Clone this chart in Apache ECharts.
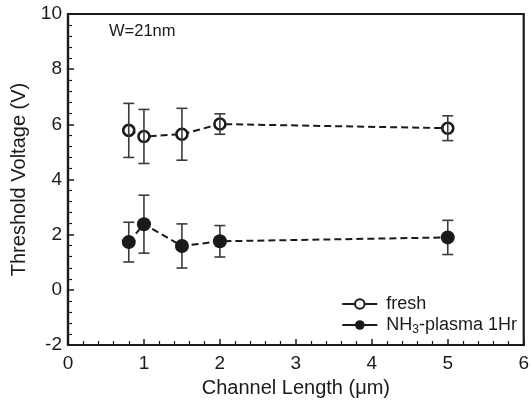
<!DOCTYPE html>
<html>
<head>
<meta charset="utf-8">
<script src="https://cdn.jsdelivr.net/npm/echarts@6/dist/echarts.min.js"></script>
<style>
  html, body { margin: 0; padding: 0; background: #fff; }
  #chart { width: 532px; height: 404px; }
</style>
</head>
<body>
<div id="chart"></div>
<script>
// channel length (um)
var lengths = [0.8, 1, 1.5, 2, 5];
// threshold voltage (V) and error half-widths
var freshVt = [5.78, 5.56, 5.64, 6.01, 5.86];
var freshErr = [0.98, 0.98, 0.94, 0.37, 0.45];
var plasmaVt = [1.73, 2.38, 1.59, 1.76, 1.90];
var plasmaErr = [0.72, 1.05, 0.80, 0.57, 0.62];

var fontFamily = 'Liberation Sans, Arial, Helvetica, sans-serif';
var ink = '#1a1a1a';

function pairs(xs, ys) {
  return xs.map(function (x, i) { return [x, ys[i]]; });
}
function bars(xs, ys, es) {
  return xs.map(function (x, i) { return [x, ys[i] - es[i], ys[i] + es[i]]; });
}

function renderErr(params, api) {
  var x = api.value(0);
  var lo = api.coord([x, api.value(1)]);
  var hi = api.coord([x, api.value(2)]);
  var cap = 5.5;
  var style = { stroke: '#3a3a3a', lineWidth: 1.6 };
  return {
    type: 'group',
    children: [
      { type: 'line', shape: { x1: lo[0], y1: lo[1], x2: hi[0], y2: hi[1] }, style: style },
      { type: 'line', shape: { x1: lo[0] - cap, y1: lo[1], x2: lo[0] + cap, y2: lo[1] }, style: style },
      { type: 'line', shape: { x1: hi[0] - cap, y1: hi[1], x2: hi[0] + cap, y2: hi[1] }, style: style }
    ]
  };
}

var myChart = echarts.init(document.getElementById('chart'), null, { renderer: 'canvas' });

myChart.setOption({
  animation: false,
  backgroundColor: '#fff',
  textStyle: { fontFamily: fontFamily },
  grid: {
    left: 68,
    top: 14,
    right: 4,
    bottom: 59,
    show: true,
    borderColor: ink,
    borderWidth: 2.2,
    backgroundColor: 'transparent'
  },
  graphic: [
    {
      type: 'text',
      left: 109,
      top: 23,
      style: { text: 'W=21nm', font: '16.5px ' + fontFamily, fill: ink }
    }
  ],
  legend: {
    orient: 'vertical',
    right: 10,
    bottom: 63,
    itemWidth: 35,
    itemHeight: 12,
    itemGap: 3,
    data: ['fresh', 'NH3'],
    lineStyle: { type: 'solid', width: 2 },
    formatter: function (name) {
      if (name === 'NH3') return '{a|NH}{s|3}{a|-plasma 1Hr}';
      return '{a|fresh}';
    },
    textStyle: {
      color: ink,
      padding: [0, 0, 0, 4],
      rich: {
        a: { fontSize: 18, fontFamily: fontFamily, color: ink },
        s: { fontSize: 12, fontFamily: fontFamily, color: ink, verticalAlign: 'bottom', padding: [10, 0, 0, 0] }
      }
    }
  },
  xAxis: {
    type: 'value',
    min: 0,
    max: 6,
    interval: 1,
    name: 'Channel Length (\u03bcm)',
    nameLocation: 'middle',
    nameGap: 33,
    nameTextStyle: { fontSize: 20, color: ink, fontFamily: fontFamily },
    axisLine: { onZero: false, lineStyle: { color: ink, width: 2.2 } },
    axisTick: { inside: true, length: 6, lineStyle: { color: ink, width: 1.5 } },
    minorTick: { show: true, splitNumber: 5, length: 4, lineStyle: { color: ink, width: 1.2 } },
    axisLabel: { fontSize: 19, color: ink, margin: 9, fontFamily: fontFamily },
    splitLine: { show: false }
  },
  yAxis: {
    type: 'value',
    min: -2,
    max: 10,
    interval: 2,
    name: 'Threshold Voltage (V)',
    nameLocation: 'middle',
    nameGap: 38,
    nameTextStyle: { fontSize: 20, color: ink, fontFamily: fontFamily },
    axisLine: { show: true, onZero: false, lineStyle: { color: ink, width: 2.2 } },
    axisTick: { inside: true, length: 6, lineStyle: { color: ink, width: 1.5 } },
    minorTick: { show: true, splitNumber: 5, length: 4, lineStyle: { color: ink, width: 1.2 } },
    axisLabel: { fontSize: 19, color: ink, margin: 6, fontFamily: fontFamily },
    splitLine: { show: false }
  },
  series: [
    {
      name: 'fresh',
      type: 'line',
      data: pairs(lengths, freshVt),
      symbol: 'circle',
      symbolSize: 11,
      z: 3,
      lineStyle: { color: ink, width: 2, type: [7, 4] },
      itemStyle: { color: '#fff', borderColor: ink, borderWidth: 2.6 }
    },
    {
      name: 'NH3',
      type: 'line',
      data: pairs(lengths, plasmaVt),
      symbol: 'circle',
      symbolSize: 14,
      z: 3,
      lineStyle: { color: ink, width: 2, type: [7, 4] },
      itemStyle: { color: ink, borderColor: ink, borderWidth: 0 }
    },
    {
      type: 'custom',
      renderItem: renderErr,
      data: bars(lengths, freshVt, freshErr),
      encode: { x: 0, y: [1, 2] },
      z: 4,
      silent: true
    },
    {
      type: 'custom',
      renderItem: renderErr,
      data: bars(lengths, plasmaVt, plasmaErr),
      encode: { x: 0, y: [1, 2] },
      z: 2,
      silent: true
    }
  ]
});

window.addEventListener('resize', function () {
  myChart.resize();
});
</script>
</body>
</html>
